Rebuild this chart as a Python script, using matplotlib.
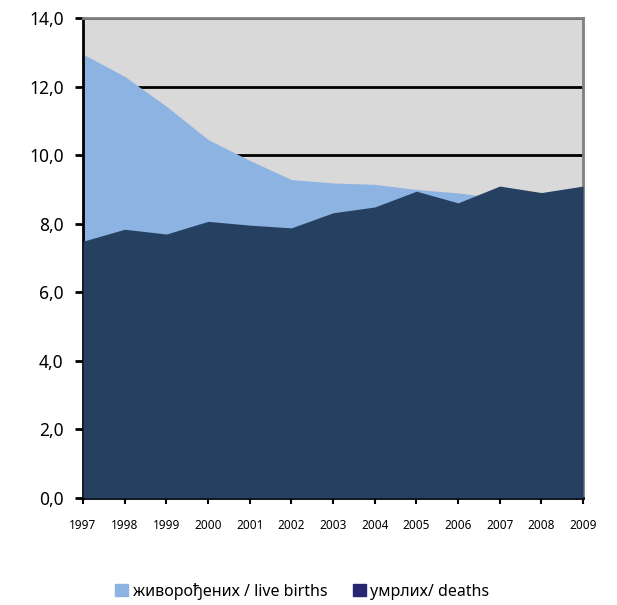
import matplotlib.pyplot as plt
from matplotlib.patches import Patch

# Data
years = [1997, 1998, 1999, 2000, 2001, 2002, 2003, 2004, 2005, 2006, 2007, 2008, 2009]
births = [12.95, 12.3, 11.43, 10.46, 9.85, 9.29, 9.19, 9.15, 9.0, 8.9, 8.75, 8.8, 8.9]
deaths = [7.49, 7.84, 7.7, 8.07, 7.96, 7.88, 8.32, 8.49, 8.95, 8.61, 9.1, 8.91, 9.1]
yticks = [0, 2, 4, 6, 8, 10, 12, 14]

plt.rcParams['font.family'] = ['Noto Sans', 'DejaVu Sans']

fig = plt.figure(figsize=(6.17, 6.05), dpi=100)
ax = fig.add_axes([0.1345, 0.177, 0.8105, 0.793])

ax.set_facecolor("#d9d9d9")
ax.fill_between(years, 0, births, color="#8db3e2", lw=0, zorder=2)
ax.fill_between(years, 0, deaths, color="#254061", lw=0, zorder=3)

ax.set_xlim(years[0], years[-1])
ax.set_ylim(0, 14)
ax.set_yticks(yticks)
ax.set_yticklabels([f"{v:.1f}".replace(".", ",") for v in yticks], fontsize=12.5)
ax.set_xticks(years)
ax.set_xticklabels([str(y) for y in years], fontsize=8.5)

ax.grid(axis="y", color="black", lw=2)
ax.set_axisbelow(True)

for s in ["left", "bottom"]:
    ax.spines[s].set_color("black")
    ax.spines[s].set_linewidth(2)
for s in ["top", "right"]:
    ax.spines[s].set_color("#808080")
    ax.spines[s].set_linewidth(2)

ax.tick_params(axis="y", length=6, width=2, pad=8)
ax.tick_params(axis="x", length=4, width=1.5, pad=11)

handles = [
    Patch(color="#8db3e2", label="живорођених / live births"),
    Patch(color="#262673", label="умрлих/ deaths"),
]
fig.legend(handles=handles, loc="center", bbox_to_anchor=(0.49, 0.023),
           ncol=2, frameon=False, fontsize=11.5, handlelength=0.8,
           handleheight=0.8, handletextpad=0.3, columnspacing=1.6)

fig.savefig("out.png", dpi=100)
